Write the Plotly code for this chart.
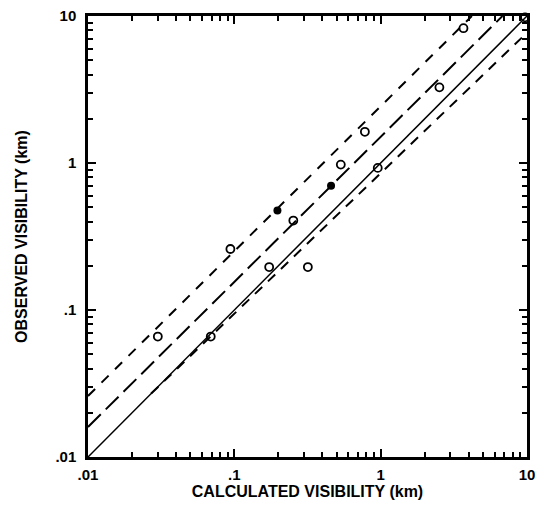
import plotly.graph_objects as go

# Observed vs calculated visibility (km)
calc_open = [0.030, 0.069, 0.094, 0.173, 0.253, 0.318, 0.534, 0.78, 0.955, 2.52, 3.68, 9.7]
obs_open = [0.066, 0.066, 0.26, 0.196, 0.406, 0.196, 0.975, 1.63, 0.926, 3.27, 8.26, 9.8]
calc_filled = [0.197, 0.458]
obs_filled = [0.475, 0.70]

# Reference / fit lines (end points)
solid_x = [0.01, 10]
solid_y = [0.01, 10]
longdash_x = [0.01, 6.8]
longdash_y = [0.016, 10]
upper_x = [0.01, 4.2]
upper_y = [0.026, 10]
lower_x = [0.027, 10]
lower_y = [0.027, 7.7]

tick_vals = [0.01, 0.1, 1, 10]
tick_text = ["<b>.01</b>", "<b>.1</b>", "<b>1</b>", "<b>10</b>"]
minor_vals = [m * 10 ** e for e in (-2, -1, 0) for m in range(2, 10)]

fig = go.Figure()
fig.add_trace(go.Scatter(x=solid_x, y=solid_y, mode="lines",
                         line=dict(color="black", width=1.5)))
fig.add_trace(go.Scatter(x=longdash_x, y=longdash_y, mode="lines",
                         line=dict(color="black", width=2, dash="18px,7px")))
fig.add_trace(go.Scatter(x=upper_x, y=upper_y, mode="lines",
                         line=dict(color="black", width=2, dash="10px,9px")))
fig.add_trace(go.Scatter(x=lower_x, y=lower_y, mode="lines",
                         line=dict(color="black", width=2, dash="10px,8px")))
fig.add_trace(go.Scatter(x=calc_open, y=obs_open, mode="markers", cliponaxis=False,
                         marker=dict(symbol="circle-open", size=8, color="black",
                                     line=dict(color="black", width=1.8))))
fig.add_trace(go.Scatter(x=calc_filled, y=obs_filled, mode="markers", cliponaxis=False,
                         marker=dict(symbol="circle", size=8, color="black")))

axis_common = dict(
    type="log", range=[-2, 1], tickvals=tick_vals, ticktext=tick_text,
    ticks="inside", ticklen=8, tickwidth=2, tickcolor="black",
    showline=True, linecolor="black", linewidth=2.5, mirror="allticks",
    showgrid=False, zeroline=False, automargin=False,
    minor=dict(ticks="inside", ticklen=5, tickwidth=1.5, tickcolor="black",
               tickvals=minor_vals, showgrid=False),
    tickfont=dict(family="Liberation Sans, Arial", size=15, color="black"),
)

fig.update_layout(
    width=540, height=505,
    margin=dict(l=88, r=13, t=16, b=48),
    paper_bgcolor="white", plot_bgcolor="white",
    showlegend=False,
    font=dict(family="Liberation Sans, Arial", color="black"),
    xaxis=dict(axis_common, ticklabelstandoff=2,
               title=dict(text="<b>CALCULATED VISIBILITY (km)</b>",
                          font=dict(size=16), standoff=4)),
    yaxis=dict(axis_common, ticklabelstandoff=6,
               title=dict(text="<b>OBSERVED VISIBILITY (km)</b>",
                          font=dict(size=16), standoff=24)),
)

fig.write_html(
    "out.html",
    config={"displayModeBar": False},
    post_script="document.body.style.margin='0';document.body.style.overflow='hidden';",
)
